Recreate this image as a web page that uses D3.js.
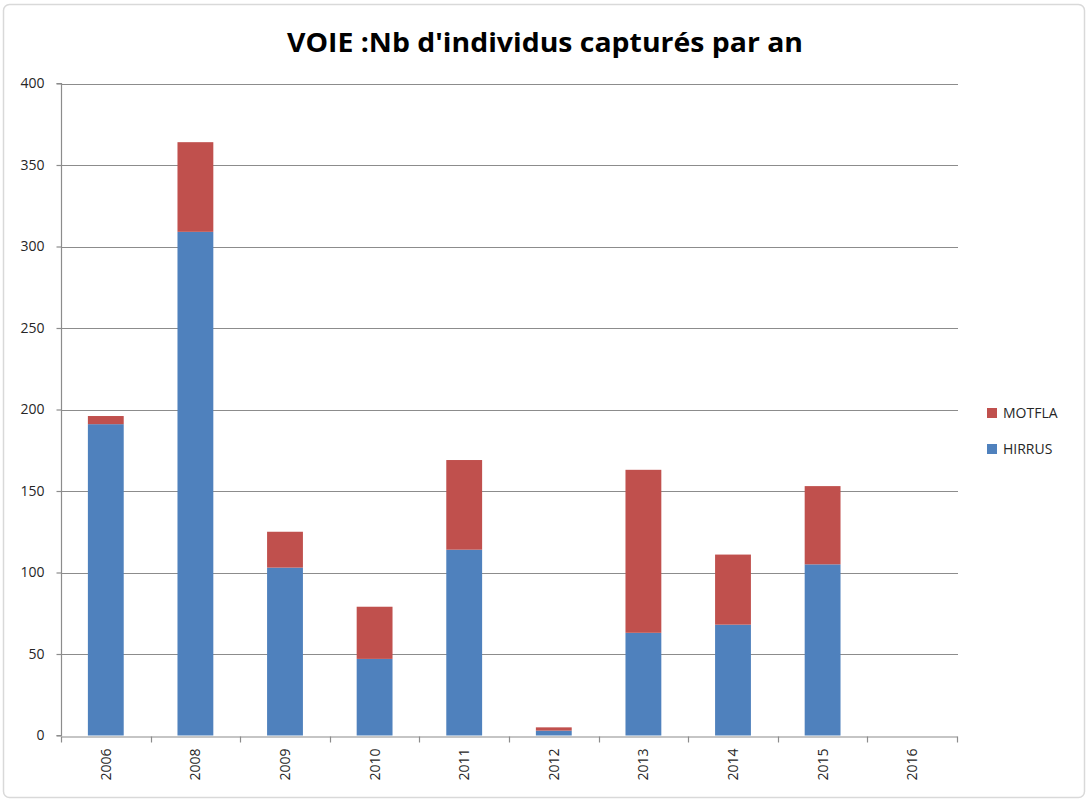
<!DOCTYPE html>
<html><head><meta charset="utf-8">
<script src="https://cdn.jsdelivr.net/npm/d3@7"></script>
<style>body{margin:0;background:#fff}svg{display:block}</style>
</head><body>
<svg id="c" width="1088" height="801"></svg>
<script>
const years = ["2006","2008","2009","2010","2011","2012","2013","2014","2015","2016"];
const hirrus = [191,309,103,47,114,3,63,68,105,0];
const motfla = [5,55,22,32,55,2,100,43,48,0];
const seriesNames = ["HIRRUS","MOTFLA"];
const seriesColors = ["#4f81bd","#c0504d"];
const yTicks = [0,50,100,150,200,250,300,350,400];
const title = "VOIE :Nb d'individus capturés par an";

const svg = d3.select("#c");
const m = {left:61, right:957, top:83.5, bottom:735.5};
const font = "'Open Sans', 'DejaVu Sans', sans-serif";

svg.append("rect").attr("x",3.5).attr("y",4.5).attr("width",1081).attr("height",793)
  .attr("rx",6).attr("fill","#fff").attr("stroke","#d9d9d9").attr("stroke-width",1.5);

const x = d3.scaleBand().domain(years).range([m.left,m.right]).paddingInner(0.6).paddingOuter(0.3);
const xb = d3.scaleBand().domain(years).range([m.left,m.right]);
const y = d3.scaleLinear().domain([0,400]).range([m.bottom,m.top]);

// gridlines
svg.append("g").selectAll("line").data(yTicks.filter(d=>d>0)).join("line")
  .attr("x1",m.left).attr("x2",m.right+1).attr("y1",d=>Math.round(y(d))+0.5).attr("y2",d=>Math.round(y(d))+0.5)
  .attr("stroke","#8c8c8c").attr("stroke-width",1.2);

// bars
const table = years.map((yr,i)=>({year:yr, HIRRUS:hirrus[i], MOTFLA:motfla[i]}));
const stack = d3.stack().keys(seriesNames)(table);
const bw = xb.bandwidth()/2.5;
svg.append("g").selectAll("g").data(stack).join("g")
  .attr("fill",(d,i)=>seriesColors[i])
  .selectAll("rect").data(d=>d).join("rect")
  .attr("x",d=>xb(d.data.year)+xb.bandwidth()/2-bw/2)
  .attr("width",bw)
  .attr("y",d=>y(d[1]))
  .attr("height",d=>Math.max(0,y(d[0])-y(d[1])));

// y axis
const yAxis = d3.axisLeft(y).tickValues(yTicks).tickSize(5).tickPadding(12);
const gy = svg.append("g").attr("transform",`translate(${m.left+0.5},0)`).call(yAxis);
gy.selectAll("path,line").attr("stroke","#8c8c8c").attr("stroke-width",1.2);
gy.select(".domain").attr("d",`M-5,${y(400)}H0V${y(0)}H-5`);
gy.selectAll("text").attr("font-family",font).attr("font-size",14).attr("fill","#262626");

// x axis
const xAxis = d3.axisBottom(xb).tickValues([]).tickSizeOuter(0);
const gx = svg.append("g").attr("transform",`translate(0,${Math.round(m.bottom)+0.5})`).call(xAxis);
gx.select(".domain").attr("stroke","#8c8c8c").attr("stroke-width",1.2);
const bounds = years.map(d=>xb(d)).concat([m.right]);
gx.selectAll(".bt").data(bounds).join("line").attr("class","bt")
  .attr("x1",d=>Math.round(d)+0.5).attr("x2",d=>Math.round(d)+0.5).attr("y1",0).attr("y2",6)
  .attr("stroke","#8c8c8c").attr("stroke-width",1.2);
gx.selectAll(".lbl").data(years).join("text").attr("class","lbl")
  .attr("transform",d=>`translate(${xb(d)+xb.bandwidth()/2+5},12) rotate(-90)`)
  .attr("text-anchor","end").attr("font-family",font).attr("font-size",14).attr("fill","#262626")
  .text(d=>d);

// title
svg.append("text").attr("x",545).attr("y",52).attr("text-anchor","middle")
  .attr("font-family","'Open Sans', sans-serif").attr("font-weight","bold").attr("font-size",27)
  .attr("textLength",516).attr("lengthAdjust","spacingAndGlyphs")
  .attr("fill","#000").text(title);

// legend (MOTFLA on top)
const leg = [{n:"MOTFLA",c:seriesColors[1],y:413},{n:"HIRRUS",c:seriesColors[0],y:449}];
const lg = svg.append("g");
lg.selectAll("rect").data(leg).join("rect").attr("x",987).attr("y",d=>d.y-5).attr("width",10).attr("height",10).attr("fill",d=>d.c);
lg.selectAll("text").data(leg).join("text").attr("x",1003).attr("y",d=>d.y+5)
  .attr("font-family",font).attr("font-size",14).attr("fill","#262626").text(d=>d.n);
</script>
</body></html>
